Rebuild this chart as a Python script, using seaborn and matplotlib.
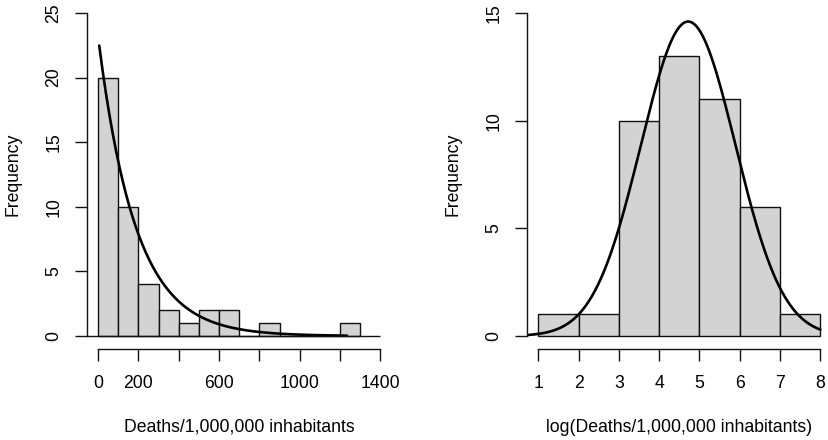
import matplotlib
matplotlib.use("Agg")
import matplotlib.pyplot as plt
import numpy as np
import seaborn as sns

# histogram counts
raw_edges = [0, 100, 200, 300, 400, 500, 600, 700, 800, 900, 1000, 1100, 1200, 1300]
raw_counts = [20, 10, 4, 2, 1, 2, 2, 0, 1, 0, 0, 0, 1]

log_edges = [1, 2, 3, 4, 5, 6, 7, 8]
log_counts = [1, 1, 10, 13, 11, 6, 1]

# fitted curves (exponential on raw, normal on log)
exp_rate = 0.0054
exp_range = (6, 1234)
norm_mean = 4.72
norm_sd = 1.175
norm_range = (0.72, 8)

n_obs = sum(raw_counts)

sns.set_style("ticks")
plt.rcParams["font.family"] = ["Liberation Sans", "DejaVu Sans"]
plt.rcParams["font.size"] = 12.7
plt.rcParams["text.color"] = "black"
plt.rcParams["axes.labelcolor"] = "black"
plt.rcParams["xtick.labelcolor"] = "black"
plt.rcParams["ytick.labelcolor"] = "black"

fig = plt.figure(figsize=(8.29, 4.4), dpi=100)
ax1 = fig.add_axes([0.1046, 0.207, 0.368, 0.793])
ax2 = fig.add_axes([0.6357, 0.207, 0.3675, 0.793])

bar_kw = dict(color="#d3d3d3", edgecolor="#111111", linewidth=1.0, alpha=1, stat="count")

# left: raw values
mids = np.array(raw_edges[:-1]) + 50
sns.histplot(x=mids, weights=raw_counts, bins=raw_edges, ax=ax1, **bar_kw)
xs = np.linspace(exp_range[0], exp_range[1], 300)
ys = n_obs * 100 * exp_rate * np.exp(-exp_rate * xs)
sns.lineplot(x=xs, y=ys, ax=ax1, color="black", linewidth=1.9, sort=False)
ax1.hlines(0, -56, 1400, color="#111111", linewidth=1.0)
ax1.set_xlim(-56, 1456)
ax1.set_ylim(-1, 26)
ax1.set_xticks([0, 200, 400, 600, 800, 1000, 1200, 1400])
ax1.set_xticklabels(["0", "200", "", "600", "", "1000", "", "1400"])
ax1.set_yticks([0, 5, 10, 15, 20, 25])
ax1.spines["bottom"].set_bounds(0, 1400)
ax1.spines["left"].set_bounds(0, 25)
ax1.set_xlabel("Deaths/1,000,000 inhabitants", labelpad=19)

# right: log values
lmids = np.array(log_edges[:-1]) + 0.5
sns.histplot(x=lmids, weights=log_counts, bins=log_edges, ax=ax2, **bar_kw)
lx = np.linspace(norm_range[0], norm_range[1], 300)
ly = n_obs * 1.0 / (norm_sd * np.sqrt(2 * np.pi)) * np.exp(-(lx - norm_mean) ** 2 / (2 * norm_sd ** 2))
sns.lineplot(x=lx, y=ly, ax=ax2, color="black", linewidth=1.9, sort=False)
ax2.set_xlim(0.72, 8.28)
ax2.set_ylim(-0.6, 15.6)
ax2.set_xticks(range(1, 9))
ax2.set_yticks([0, 5, 10, 15])
ax2.spines["bottom"].set_bounds(1, 8)
ax2.spines["left"].set_bounds(0, 15)
ax2.set_xlabel("log(Deaths/1,000,000 inhabitants)", labelpad=19)

for ax in (ax1, ax2):
    sns.despine(ax=ax)
    ax.set_ylabel("Frequency", labelpad=17)
    for s in ("left", "bottom"):
        ax.spines[s].set_linewidth(1.0)
        ax.spines[s].set_color("#111111")
    ax.tick_params(axis="both", length=8.6, width=1.0, color="#111111", labelsize=12.7)
    ax.tick_params(axis="x", pad=10.5)
    ax.tick_params(axis="y", pad=9)
    for lab in ax.get_yticklabels():
        lab.set_rotation(90)
        lab.set_va("center")

fig.savefig("out.png", dpi=100)
